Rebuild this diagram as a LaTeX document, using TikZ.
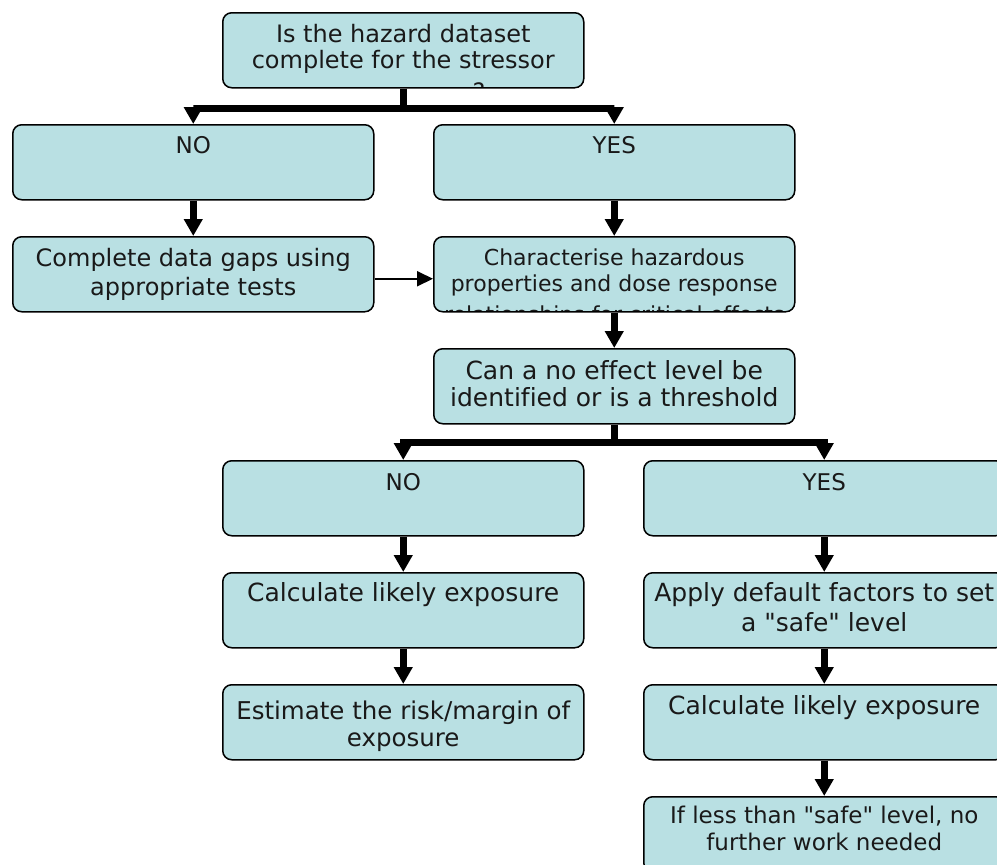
\documentclass[tikz,border=0pt]{standalone}
\usepackage{fontspec}
\setmainfont{DejaVu Sans}[Ligatures={TeXOff,NoCommon}]
\usetikzlibrary{arrows.meta}
\definecolor{boxfill}{RGB}{185,224,227}
\tikzset{
  flowboxstyle/.style={draw=black, line width=1.5pt, rounded corners=9pt, fill=boxfill,
    minimum width=361pt, minimum height=75pt, inner sep=0pt},
  flowtext/.style={inner sep=0pt, align=center, text=black!90},
  fatarrow/.style={line width=6.5pt, -{Triangle[width=18pt,length=17pt]}},
  fatbranch/.style={line width=7pt, line join=miter, -{Triangle[width=18pt,length=17pt]}},
  thinarrow/.style={line width=2pt, -{Triangle[width=15pt,length=16pt]}}
}
% name, x, y(top), font size, leading, offset, text
\newcommand\flowbox[7]{%
  \node[flowboxstyle, anchor=north west] (#1) at (#2,#3) {};
  \begin{scope}
    \clip[rounded corners=8pt] ([shift={(1pt,-1pt)}]#1.north west) rectangle ([shift={(-1pt,2pt)}]#1.south east);
    \node[flowtext, font=\fontsize{#4pt}{#5pt}\selectfont, anchor=north] (#1-text) at ([yshift=-#6pt]#1.north) {\rule{0pt}{#4pt}#7};
  \end{scope}}
\begin{document}
\begin{tikzpicture}[x=1pt,y=-1pt]
\path[use as bounding box] (0,0) rectangle (997,865);
\clip (0,0) rectangle (997,865);

\flowbox{top}{222}{12}{24}{26.5}{6}{Is the hazard dataset\\complete for the stressor}
\begin{scope}
  \clip[rounded corners=8pt] ([shift={(1pt,-1pt)}]top.north west) rectangle ([shift={(-1pt,2pt)}]top.south east);
  \node[flowtext, font=\fontsize{24pt}{26.5pt}\selectfont, anchor=base] (topq) at (479,100.5) {?};
\end{scope}

\flowbox{noA}{12}{124}{23}{27}{6}{NO}
\flowbox{yesA}{433}{124}{23}{27}{6}{YES}
\flowbox{compl}{12}{236}{24}{28.3}{6.7}{Complete data gaps using\\appropriate tests}
\flowbox{charac}{433}{236}{22}{26.7}{7}{Characterise hazardous\\properties and dose response\\[4pt]relationships for critical effects}
\flowbox{cana}{433}{348}{25}{27.7}{6}{Can a no effect level be\\identified or is a threshold}
\flowbox{noB}{222}{460}{23}{27}{7}{NO}
\flowbox{yesB}{643}{460}{23}{27}{7}{YES}
\flowbox{calcL}{222}{572}{25}{28}{4.7}{Calculate likely exposure}
\flowbox{apply}{643}{572}{25}{30}{4.7}{Apply default factors to set\\a "safe" level}
\flowbox{est}{222}{684}{24.5}{27}{10.5}{Estimate the risk/margin of\\exposure}
\flowbox{calcR}{643}{684}{25}{28}{5}{Calculate likely exposure}
\flowbox{ifless}{643}{796}{23}{26.7}{4.3}{If less than "safe" level, no\\further work needed}

% branches
\draw[fatbranch] (top.south) -- ++(0,20) -| (noA.north);
\draw[fatbranch] (top.south) -- ++(0,20) -| (yesA.north);
\draw[fatbranch] (cana.south) -- ++(0,18) -| (noB.north);
\draw[fatbranch] (cana.south) -- ++(0,18) -| (yesB.north);

% straight arrows
\draw[fatarrow] (noA.south) -- (compl.north);
\draw[fatarrow] (yesA.south) -- (charac.north);
\draw[fatarrow] (charac.south) -- (cana.north);
\draw[fatarrow] (noB.south) -- (calcL.north);
\draw[fatarrow] (calcL.south) -- (est.north);
\draw[fatarrow] (yesB.south) -- (apply.north);
\draw[fatarrow] (apply.south) -- (calcR.north);
\draw[fatarrow] (calcR.south) -- (ifless.north);
\draw[thinarrow] ([yshift=-4.5pt]compl.east) -- ([yshift=-4.5pt]charac.west);
\end{tikzpicture}
\end{document}
